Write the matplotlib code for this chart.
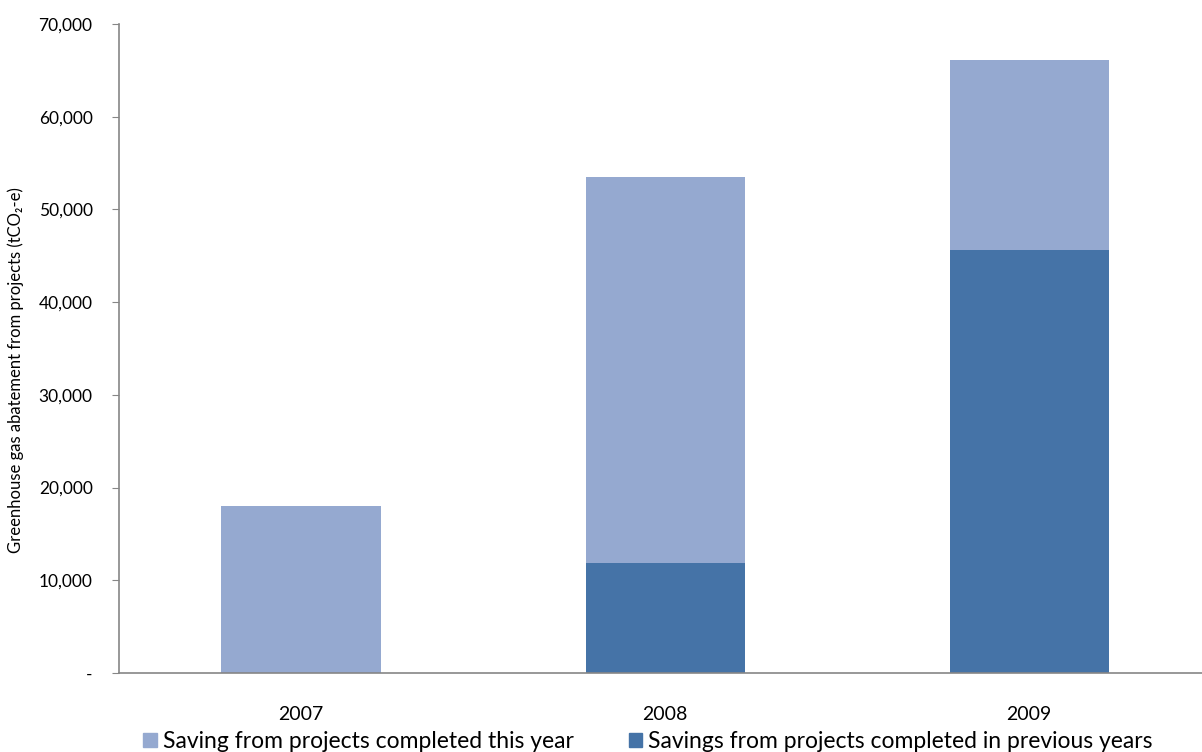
import matplotlib.pyplot as plt
from matplotlib.ticker import FuncFormatter
from matplotlib.patches import Patch

years = ['2007', '2008', '2009']
previous_years = [0, 11900, 45600]
this_year = [18000, 41600, 20500]

light = '#95a9d0'
dark = '#4573a7'

plt.rcParams['font.family'] = ['Lato', 'DejaVu Sans']

fig = plt.figure(figsize=(12.02, 7.52), dpi=100)
ax = fig.add_axes([119 / 1202, (752 - 673) / 752, (1202 - 119) / 1202, (673 - 24) / 752])

x = range(len(years))
ax.bar(x, previous_years, width=0.437, color=dark)
ax.bar(x, this_year, width=0.437, bottom=previous_years, color=light)

ax.set_xlim(-0.5, 2.475)
ax.set_ylim(0, 70000)
ax.set_yticks(range(0, 70001, 10000))
ax.yaxis.set_major_formatter(FuncFormatter(lambda v, p: '-' if v == 0 else f'{int(v):,}'))
ax.set_xticks(list(x))
ax.set_xticklabels(years, fontsize=14)
ax.tick_params(axis='x', length=0, pad=24)
ax.tick_params(axis='y', labelsize=12.5, length=5, color='#868686', pad=14)

for s in ['top', 'right']:
    ax.spines[s].set_visible(False)
for s in ['left', 'bottom']:
    ax.spines[s].set_color('#868686')
    ax.spines[s].set_linewidth(1.2)

ax.set_ylabel('Greenhouse gas abatement from projects (tCO₂-e)', fontsize=12)
ax.yaxis.set_label_coords(-0.088, 0.467)

handles = [Patch(color=light, label='Saving from projects completed this year'),
           Patch(color=dark, label='Savings from projects completed in previous years')]
fig.legend(handles=handles, loc='lower left', bbox_to_anchor=(134 / 1202, -0.012), ncol=2,
           frameon=False, fontsize=16.5, handlelength=0.6, handleheight=0.6,
           handletextpad=0.25, columnspacing=2.4, borderaxespad=0)

fig.savefig('out.png', dpi=100)
